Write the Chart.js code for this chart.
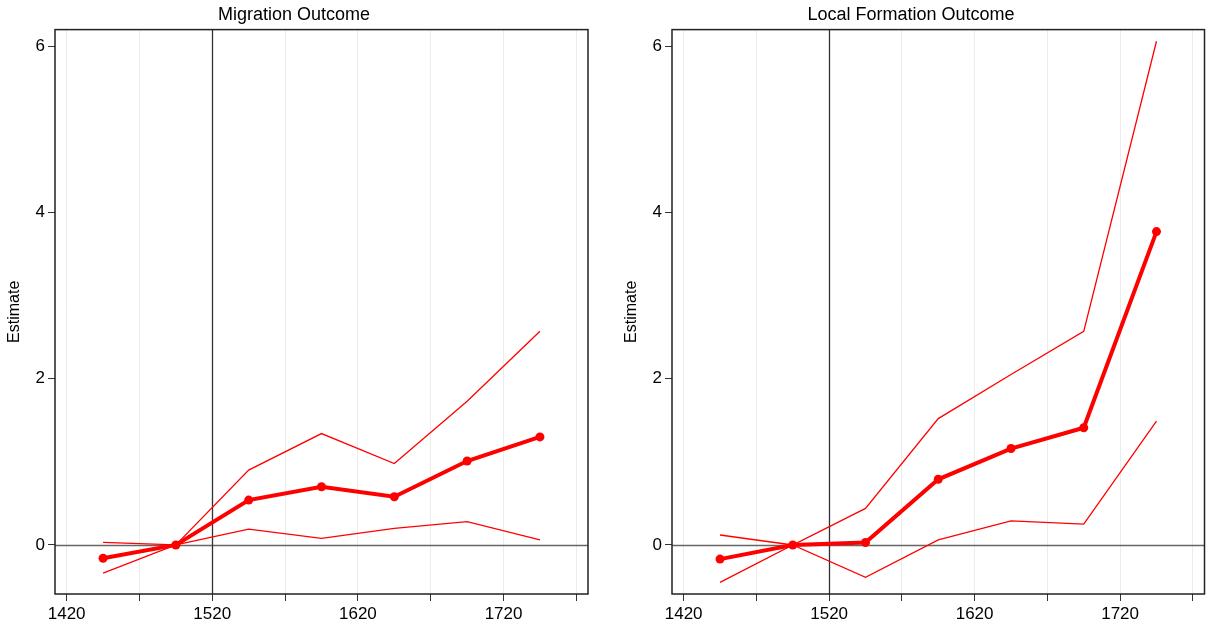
<!DOCTYPE html>
<html>
<head>
<meta charset="utf-8">
<script src="https://cdn.jsdelivr.net/npm/chart.js@4/dist/chart.umd.min.js"></script>
<style>
  body { margin: 0; background: #fff; }
  .painel { position: absolute; top: 0; height: 626px; }
</style>
</head>
<body>
<div class="painel" style="left:0;width:600px"><canvas id="migracao"></canvas></div>
<div class="painel" style="left:617px;width:592px"><canvas id="local"></canvas></div>
<script>
// anos dos coeficientes
const anos = [1445, 1495, 1545, 1595, 1645, 1695, 1745];
const xTicks = [1420, 1470, 1520, 1570, 1620, 1670, 1720, 1770];
const xLabels = ['1420', '', '1520', '', '1620', '', '1720', ''];
const yTicks = [0, 2, 4, 6];

// Migration Outcome
const migEstimate = [-0.16, 0, 0.54, 0.70, 0.58, 1.01, 1.30];
const migUpper = [0.03, 0, 0.90, 1.34, 0.98, 1.73, 2.57];
const migLower = [-0.34, 0, 0.19, 0.08, 0.20, 0.28, 0.06];

// Local Formation Outcome
const locEstimate = [-0.17, 0, 0.03, 0.79, 1.16, 1.41, 3.77];
const locUpper = [0.12, 0, 0.44, 1.52, 2.05, 2.57, 6.06];
const locLower = [-0.45, 0, -0.39, 0.06, 0.29, 0.25, 1.49];

const linhaVertical = 1520; // linha de referencia
const fonte = { family: "'Liberation Sans', Arial, sans-serif", size: 17 };

function pontos(valores) {
  return anos.map((a, i) => ({ x: a, y: valores[i] }));
}

// moldura + linhas de referencia em 0 e 1520
const molduraPlugin = {
  id: 'moldura',
  beforeDatasetsDraw(chart) {
    const { ctx, chartArea: a, scales } = chart;
    ctx.save();
    ctx.lineWidth = 1.3;
    const y0 = Math.round(scales.y.getPixelForValue(0)) + 0.5;
    const x0 = Math.round(scales.x.getPixelForValue(linhaVertical)) + 0.5;
    ctx.strokeStyle = '#666';
    ctx.beginPath();
    ctx.moveTo(a.left, y0); ctx.lineTo(a.right, y0);
    ctx.stroke();
    ctx.strokeStyle = '#333';
    ctx.beginPath();
    ctx.moveTo(x0, a.top); ctx.lineTo(x0, a.bottom);
    ctx.stroke();
    ctx.restore();
  },
  afterDraw(chart) {
    const { ctx, chartArea: a } = chart;
    ctx.save();
    ctx.strokeStyle = '#222';
    ctx.lineWidth = 1.5;
    ctx.strokeRect(a.left, a.top, a.right - a.left, a.bottom - a.top);
    ctx.restore();
  }
};

function criarGrafico(id, titulo, est, sup, inf, padDireita) {
  return new Chart(document.getElementById(id), {
    type: 'line',
    data: {
      datasets: [
        { label: 'upper', data: pontos(sup), borderColor: 'red', borderWidth: 1.3, pointRadius: 0, tension: 0 },
        { label: 'lower', data: pontos(inf), borderColor: 'red', borderWidth: 1.3, pointRadius: 0, tension: 0 },
        { label: 'estimate', data: pontos(est), borderColor: 'red', backgroundColor: 'red', borderWidth: 4,
          pointRadius: 4.5, pointBackgroundColor: 'red', pointBorderWidth: 0, tension: 0 }
      ]
    },
    options: {
      responsive: true,
      maintainAspectRatio: false,
      animation: false,
      layout: { padding: { right: padDireita } },
      scales: {
        x: {
          type: 'linear',
          min: 1412,
          max: 1778,
          afterBuildTicks: s => { s.ticks = xTicks.map(v => ({ value: v })); },
          afterFit: s => { s.height = 32; },
          ticks: {
            autoSkip: false, maxRotation: 0, color: '#000', font: fonte, padding: 3,
            callback: (v) => xLabels[xTicks.indexOf(v)] ?? ''
          },
          grid: { color: '#ececec', tickColor: '#333', tickLength: 7, drawTicks: true },
          border: { display: false }
        },
        y: {
          min: -0.59,
          max: 6.2,
          afterBuildTicks: s => { s.ticks = yTicks.map(v => ({ value: v })); },
          afterFit: s => { s.width = 55; },
          ticks: { color: '#000', font: fonte, padding: 3 },
          grid: { color: 'rgba(0,0,0,0)', tickColor: '#333', tickLength: 7 },
          border: { display: false },
          title: { display: true, text: 'Estimate', color: '#000', font: { family: fonte.family, size: 16 }, padding: { top: 5, bottom: 0 } }
        }
      },
      plugins: {
        legend: { display: false },
        tooltip: { enabled: false },
        title: {
          display: true, text: titulo, color: '#000',
          font: { family: fonte.family, size: 18, weight: 'normal' },
          padding: { top: 4, bottom: 4 }
        }
      }
    },
    plugins: [molduraPlugin]
  });
}

criarGrafico('migracao', 'Migration Outcome', migEstimate, migUpper, migLower, 12);
criarGrafico('local', 'Local Formation Outcome', locEstimate, locUpper, locLower, 4);
</script>
</body>
</html>
